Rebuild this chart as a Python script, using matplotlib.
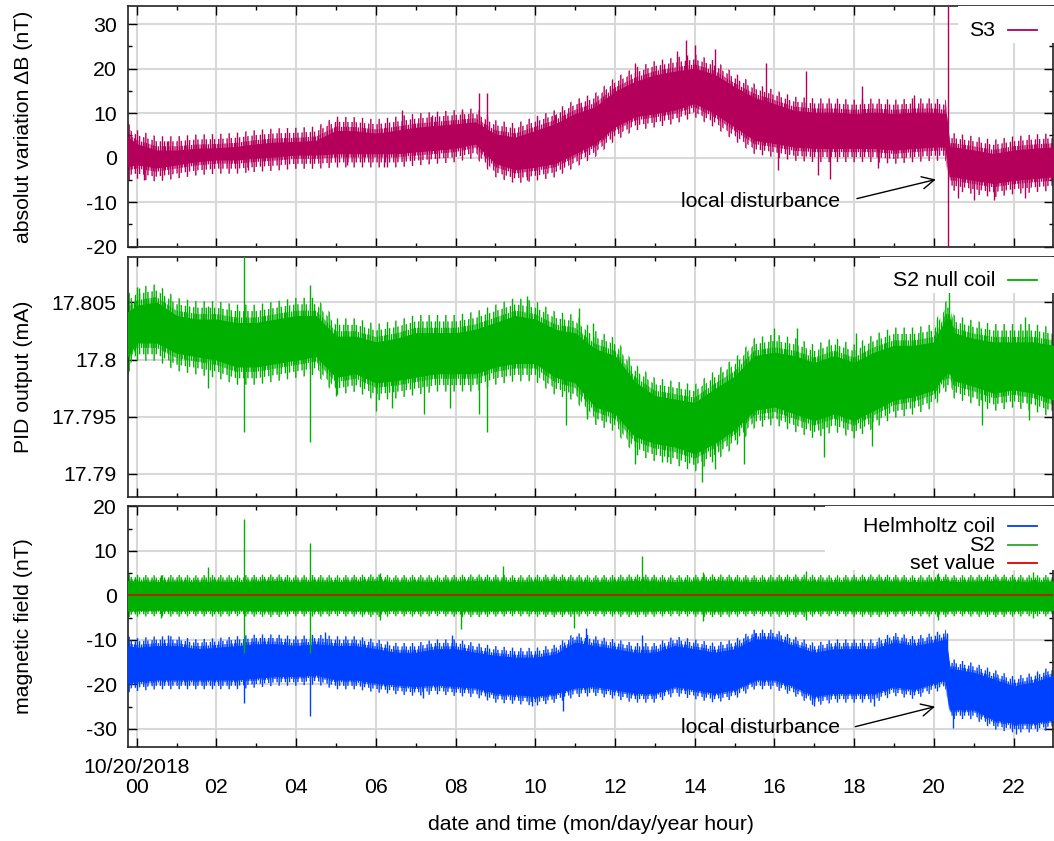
import matplotlib
matplotlib.use("Agg")
import matplotlib.pyplot as plt
from matplotlib.patches import Rectangle
from matplotlib.ticker import MultipleLocator, FixedLocator

plt.rcParams['font.family'] = ['Liberation Sans', 'DejaVu Sans']
plt.rcParams['hatch.linewidth'] = 1.0
plt.rcParams['axes.unicode_minus'] = False
FS = 15.3

# ---------------- data (hours since 10/20/2018 00:00) ----------------
T = [-0.23, 0.0, 0.5, 1.0, 1.5, 2.0, 2.5, 3.0, 3.5, 4.0, 4.5, 5.0, 5.5, 6.0, 6.5,
     7.0, 7.5, 8.0, 8.5, 9.0, 9.5, 10.0, 10.5, 11.0, 11.5, 12.0, 12.5, 13.0, 13.5,
     14.0, 14.5, 15.0, 15.5, 16.0, 16.5, 17.0, 17.5, 18.0, 18.5, 19.0, 19.5, 20.0,
     20.3, 20.4, 20.5, 21.0, 21.5, 22.0, 22.5, 23.0]

# S3 absolute variation (nT): dense band upper / lower
S3_HI = [4.6, 3.0, 1.6, 1.6, 2.0, 2.1, 2.4, 3.0, 3.4, 3.5, 3.8, 6.0, 5.9, 5.4, 6.0,
         6.7, 7.1, 7.5, 7.9, 5.2, 4.5, 6.0, 7.5, 9.8, 11.3, 14.8, 17.0, 18.5, 19.3,
         20.0, 18.6, 15.8, 13.4, 12.0, 10.5, 10.1, 10.1, 9.8, 10.1, 9.8, 10.1, 10.1,
         9.8, 2.3, 2.3, 1.6, 0.8, 1.6, 2.0, 2.3]
S3_LO = [-1.9, -1.5, -2.2, -1.5, -0.8, -0.4, -0.4, 0.0, 0.3, 0.7, 0.7, 1.0, 1.0, 1.0, 1.0,
         1.4, 1.8, 2.2, 3.2, -1.2, -2.6, -2.0, -1.2, 1.0, 3.3, 7.0, 9.3, 10.0, 10.8,
         12.3, 10.0, 7.0, 4.0, 3.3, 2.5, 2.2, 2.2, 2.2, 2.2, 1.8, 2.2, 2.5,
         2.5, -4.2, -4.2, -5.0, -5.7, -5.0, -4.6, -4.2]
# isolated S3 excursions: (time, low, high)
S3_SPIKE_T = [0.19, 0.75, 2.78, 5.03, 5.28, 6.2, 6.65, 7.4, 8.15, 8.6, 8.8, 9.8,
              10.5, 11.1, 12.5, 13.55, 13.78, 14.0, 14.5, 15.8, 16.1, 16.8, 17.1,
              17.4, 18.2, 18.6, 19.5, 20.35, 20.6, 21.0, 21.5, 22.3]
S3_SPIKE_LO = [-5.0, 0.0, -2.8, 2.0, -1.6, -2.0, 2.0, 3.0, 4.0, 5.0, 5.0, -5.0,
               0.0, 3.0, 10.0, 12.0, 13.0, 13.0, 11.0, 5.0, -2.8, 5.0, -3.9,
               -4.7, 4.0, -2.4, 4.0, -25.0, -9.0, -9.5, -9.5, -9.0]
S3_SPIKE_HI = [0.0, 3.8, 0.0, 8.5, 2.0, 2.0, 10.7, 9.5, 10.5, 14.5, 14.5, 0.0,
               9.5, 12.2, 21.3, 23.9, 26.5, 25.4, 24.3, 21.3, 3.0, 19.4, 3.0,
               3.0, 16.0, 3.0, 14.0, 40.0, 0.0, 0.0, 0.0, 0.0]

# S2 null coil PID output: offsets from 17.8 mA in units of 0.001 mA
PID_BASE = 17.8
PID_HI = [4.1, 4.7, 5.0, 3.8, 3.5, 3.5, 3.2, 3.2, 3.5, 3.8, 3.8, 2.0, 2.0, 1.5, 1.8,
          2.3, 2.3, 2.3, 2.6, 3.2, 3.8, 3.5, 2.6, 2.3, 0.9, 0.3, -2.0, -3.2, -3.5,
          -3.8, -2.6, -1.5, 0.3, 0.6, 0.3, -0.3, 0.3, -0.3, 0.6, 1.2, 1.2, 1.5,
          3.5, 3.5, 2.3, 1.8, 1.5, 1.5, 1.5, 1.2]
PID_LO = [0.3, 1.5, 1.5, 0.6, 0.3, 0.0, -0.6, -0.6, -0.3, 0.0, 0.3, -1.5, -1.2, -2.0, -1.8,
          -1.5, -1.2, -1.2, -1.2, -0.6, -0.3, -0.3, -1.5, -2.0, -4.1, -4.7, -6.7, -7.3, -7.6,
          -8.2, -7.3, -6.1, -4.4, -4.1, -4.7, -5.3, -4.7, -5.3, -4.4, -3.5, -3.2, -2.6,
          -1.2, -1.2, -1.8, -2.3, -2.9, -2.6, -2.9, -3.5]
PID_SPIKE_T = [0.05, 1.79, 2.69, 4.34, 5.0, 6.0, 6.4, 7.2, 7.85, 8.6, 8.79, 9.78,
               10.76, 11.09, 11.3, 11.44, 12.5, 13.3, 14.19, 14.5, 15.23, 15.99,
               16.57, 17.24, 18.04, 18.45, 20.39, 21.21, 22.28, 22.4]
PID_SPIKE_LO = [2.0, -2.5, -6.3, -7.2, -3.2, -4.5, -4.2, -4.8, -4.2, -4.8, -6.3, 1.0,
                -5.7, 0.0, -5.2, -1.0, -9.1, -9.0, -10.7, -9.6, -9.1, -2.0,
                -2.0, -8.5, -2.0, -7.6, 1.0, -5.7, -1.0, -5.3]
PID_SPIKE_HI = [6.3, 4.7, 9.5, 6.5, 0.5, 0.0, 0.0, 0.0, 0.0, 0.0, 0.0, 5.6,
                0.0, 4.5, 0.0, 3.2, -4.0, -4.0, -5.0, -5.0, -4.0, 2.8,
                2.8, -3.0, 2.3, -3.0, 6.0, 0.0, 3.7, 0.0]

# S2 magnetic field (nT)
S2_HI = [3.2, 3.1, 3.0, 3.1, 3.0, 3.1, 3.0, 3.1, 3.2, 3.0, 3.1, 3.0, 3.1, 3.2, 3.0,
         3.1, 3.0, 3.1, 3.2, 3.1, 3.0, 3.1, 3.2, 3.1, 3.0, 3.1, 3.2, 3.1, 3.0,
         3.1, 3.2, 3.1, 3.0, 3.1, 3.2, 3.1, 3.0, 3.1, 3.2, 3.1, 3.0, 3.1,
         3.2, 3.1, 3.0, 3.1, 3.2, 3.1, 3.0, 3.1]
S2_LO = [-3.4, -3.3, -3.2, -3.3, -3.2, -3.3, -3.2, -3.3, -3.4, -3.2, -3.3, -3.2, -3.3, -3.4, -3.2,
         -3.3, -3.2, -3.3, -3.4, -3.3, -3.2, -3.3, -3.4, -3.3, -3.2, -3.3, -3.4, -3.3, -3.2,
         -3.3, -3.4, -3.3, -3.2, -3.3, -3.4, -3.3, -3.2, -3.3, -3.4, -3.3, -3.2, -3.3,
         -3.4, -3.3, -3.2, -3.3, -3.4, -3.3, -3.2, -3.3]
S2_SPIKE_T = [0.6, 1.8, 2.69, 4.34, 6.1, 8.13, 9.2, 10.97, 12.69, 14.2, 16.8, 20.1, 22.5]
S2_SPIKE_LO = [-5.0, 0.0, -12.9, -12.9, -5.5, -7.5, 0.0, -7.3, 0.0, -5.8, -5.6, -5.5, -5.2]
S2_SPIKE_HI = [4.5, 6.4, 17.2, 11.8, 5.0, 0.0, 6.6, 0.0, 8.8, 5.2, 5.5, 5.0, 5.2]

# Helmholtz coil (nT)
HH_HI = [-11.4, -11.8, -11.4, -11.4, -12.1, -11.8, -11.4, -11.0, -11.0, -11.4, -11.0, -11.4, -11.4,
         -12.1, -12.9, -12.9, -12.1, -12.1, -12.9, -13.6, -14.0, -14.0, -13.3, -10.6, -11.4,
         -12.1, -12.9, -12.9, -11.4, -12.1, -12.9, -12.1, -9.9, -9.9, -11.4, -12.9, -12.1,
         -12.1, -12.1, -10.6, -11.4, -10.6, -9.9, -16.6, -16.6, -17.4, -18.9, -20.4, -19.6, -18.1]
HH_LO = [-19.6, -19.3, -18.9, -18.9, -18.9, -18.9, -18.9, -18.5, -18.1, -18.1, -17.8, -18.9, -18.9,
         -19.6, -20.0, -20.4, -20.0, -20.4, -20.7, -21.9, -22.2, -22.6, -21.9, -20.7, -20.4,
         -21.1, -21.9, -21.9, -20.4, -21.1, -21.9, -21.1, -18.9, -18.9, -20.4, -22.6, -21.9,
         -21.9, -21.9, -20.4, -21.1, -19.6, -18.9, -25.6, -25.6, -25.6, -27.9, -28.6, -28.6, -27.9]
HH_SPIKE_T = [0.78, 2.69, 4.34, 4.73, 7.19, 7.9, 9.93, 10.69, 11.28, 12.69, 15.51,
              17.0, 18.5, 20.34, 20.49, 22.05]
HH_SPIKE_LO = [-12.0, -24.1, -27.1, -12.0, -23.0, -12.0, -24.9, -26.0, -12.0, -13.0, -11.0,
               -24.9, -24.9, -12.0, -29.7, -31.2]
HH_SPIKE_HI = [-8.8, -15.0, -15.0, -8.2, -19.0, -8.8, -20.0, -20.0, -7.3, -8.8, -8.4,
               -20.0, -20.0, -8.4, -24.0, -27.0]

SET_T = [-0.23, 23.0]
SET_V = [0.0, 0.0]

XTICKS = [0, 2, 4, 6, 8, 10, 12, 14, 16, 18, 20, 22]
XTICKLABELS = ['10/20/2018\n00', '\n02', '\n04', '\n06', '\n08', '\n10', '\n12',
               '\n14', '\n16', '\n18', '\n20', '\n22']

# ---------------- style ----------------
C_S3 = '#b4005a'
C_GREEN = '#00b000'
C_BLUE = '#0040ff'
C_RED = '#e00000'
GRID = '#d8d8d8'

W, H = 1054, 841
fig = plt.figure(figsize=(W / 100, H / 100), dpi=100)

L_PX, R_PX = 127.7, 1053.0
def axes_rect(top_px, bot_px):
    return [L_PX / W, 1 - bot_px / H, (R_PX - L_PX) / W, (bot_px - top_px) / H]

panels = [(6.3, 246.7), (256.7, 496.7), (506.3, 746.7)]
axs = [fig.add_axes(axes_rect(t, b)) for t, b in panels]

XLIM = (-0.226, 22.99)

def style(ax, ymajor, yminor):
    ax.set_xlim(*XLIM)
    ax.xaxis.set_major_locator(FixedLocator(XTICKS))
    ax.xaxis.set_minor_locator(MultipleLocator(1))
    ax.yaxis.set_major_locator(ymajor)
    if yminor is not None:
        ax.yaxis.set_minor_locator(yminor)
    ax.tick_params(which='both', direction='in', top=True, right=True,
                   labelsize=FS, color='black', width=1.0)
    ax.tick_params(which='major', length=6.5, pad=8)
    ax.tick_params(which='minor', length=3.2)
    ax.grid(True, which='major', color=GRID, lw=1.5)
    ax.set_axisbelow(True)
    for s in ax.spines.values():
        s.set_linewidth(1.2)
        s.set_color('#222222')

# fringe layers: (fraction of pad, hatch density) -> noisy tips of varying length
FRINGE = [(1.0, '||'), (0.65, '||||'), (0.3, '|||||||')]

def band(ax, hi, lo, color, pad, scale=1.0, base=0.0):
    hi_v = [base + scale * v for v in hi]
    lo_v = [base + scale * v for v in lo]
    for frac, hatch in FRINGE:
        ax.fill_between(T, [v - frac * pad for v in lo_v], [v + frac * pad for v in hi_v],
                        facecolor='none', edgecolor=color, hatch=hatch, lw=0, zorder=2)
    ax.fill_between(T, lo_v, hi_v, color=color, lw=0.8, zorder=3)

def spikes(ax, t, lo, hi, color, scale=1.0, base=0.0):
    ax.vlines(t, [base + scale * v for v in lo], [base + scale * v for v in hi],
              color=color, lw=1.0, zorder=3)

def legend_box(ax, x0_px, y_bot_px, top_px, bot_px, entries):
    hgt = bot_px - top_px
    fx = lambda px: (px - L_PX) / (R_PX - L_PX)
    fy = lambda py: (bot_px - py) / hgt
    ax.add_patch(Rectangle((fx(x0_px), fy(y_bot_px)), 1.2 - fx(x0_px), 1 - fy(y_bot_px),
                           transform=ax.transAxes, facecolor='white', edgecolor='none',
                           zorder=8, clip_on=False))
    for label, color, ypx in entries:
        ax.text(fx(995), fy(ypx), label, transform=ax.transAxes, ha='right', va='center',
                fontsize=FS, zorder=9)
        ax.plot([fx(1008), fx(1037)], [fy(ypx), fy(ypx)], transform=ax.transAxes,
                color=color, lw=1.3, zorder=9, clip_on=False)

# ---- panel 1: S3 ----
ax = axs[0]
style(ax, MultipleLocator(10), MultipleLocator(5))
ax.set_ylim(-20, 34)
band(ax, S3_HI, S3_LO, C_S3, 3.2)
spikes(ax, S3_SPIKE_T, S3_SPIKE_LO, S3_SPIKE_HI, C_S3)
ax.set_xticklabels([])
legend_box(ax, 958, 43, *panels[0], [('S3', C_S3, 30.0)])
ax.text(17.64, -9.9, 'local disturbance', ha='right', va='center', fontsize=FS, zorder=6)
ax.annotate('', xy=(20.05, -4.9), xytext=(18.07, -9.2),
            arrowprops=dict(arrowstyle='->', lw=1.0, color='black',
                            mutation_scale=22, shrinkA=0, shrinkB=0), zorder=6)

# ---- panel 2: PID output ----
ax = axs[1]
style(ax, FixedLocator([17.79, 17.795, 17.8, 17.805]), None)
ax.set_ylim(17.788, 17.809)
ax.set_yticklabels(['17.79', '17.795', '17.8', '17.805'])
band(ax, PID_HI, PID_LO, C_GREEN, 1.6e-3, scale=1e-3, base=PID_BASE)
spikes(ax, PID_SPIKE_T, PID_SPIKE_LO, PID_SPIKE_HI, C_GREEN, scale=1e-3, base=PID_BASE)
ax.set_xticklabels([])
legend_box(ax, 880, 293, *panels[1], [('S2 null coil', C_GREEN, 280.0)])

# ---- panel 3: magnetic field ----
ax = axs[2]
style(ax, MultipleLocator(10), MultipleLocator(5))
ax.set_ylim(-34.0, 20)
band(ax, HH_HI, HH_LO, C_BLUE, 2.2)
spikes(ax, HH_SPIKE_T, HH_SPIKE_LO, HH_SPIKE_HI, C_BLUE)
band(ax, S2_HI, S2_LO, C_GREEN, 1.5)
spikes(ax, S2_SPIKE_T, S2_SPIKE_LO, S2_SPIKE_HI, C_GREEN)
ax.plot(SET_T, SET_V, color=C_RED, lw=1.1, zorder=4)
ax.set_xticklabels(XTICKLABELS, linespacing=1.05)
legend_box(ax, 825, 570, *panels[2], [('Helmholtz coil', C_BLUE, 526.0),
                                      ('S2', '#2aa82a', 545.3),
                                      ('set value', C_RED, 563.3)])
ax.text(17.64, -29.7, 'local disturbance', ha='right', va='center', fontsize=FS, zorder=6)
ax.annotate('', xy=(20.03, -25.0), xytext=(18.03, -29.5),
            arrowprops=dict(arrowstyle='->', lw=1.0, color='black',
                            mutation_scale=22, shrinkA=0, shrinkB=0), zorder=6)

# ---- axis labels ----
ylabels = ['absolut variation ΔB (nT)', 'PID output (mA)', 'magnetic field (nT)']
for (t, b), lab in zip(panels, ylabels):
    fig.text(24 / W, 1 - (t + b) / 2 / H, lab, rotation=90, ha='center', va='center',
             fontsize=FS)
fig.text(591 / W, 1 - 824 / H, 'date and time (mon/day/year hour)', ha='center',
         va='center', fontsize=FS)

fig.savefig('out.png', dpi=100)
